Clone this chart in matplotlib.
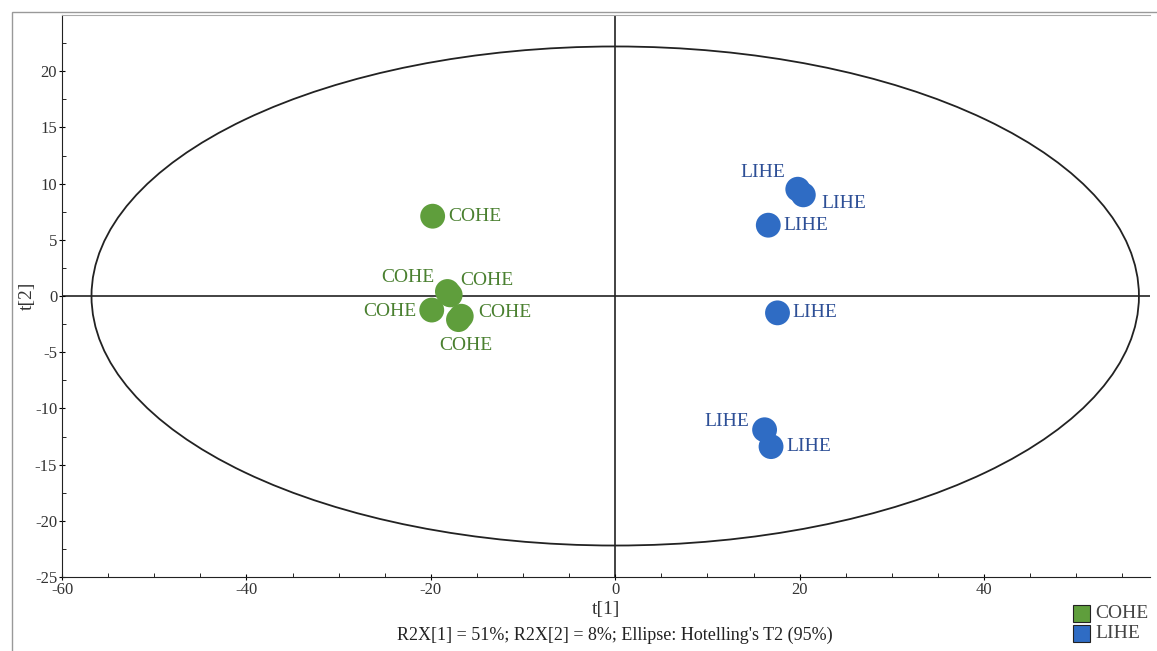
import matplotlib
matplotlib.use("Agg")
import matplotlib.pyplot as plt
from matplotlib.patches import Ellipse, Rectangle

plt.rcParams["axes.unicode_minus"] = False

# ---- data ----
cohe_t1 = [-19.8, -18.2, -17.9, -19.9, -16.7, -17.0]
cohe_t2 = [7.1, 0.4, 0.1, -1.25, -1.8, -2.1]
lihe_t1 = [19.8, 20.4, 16.6, 17.6, 16.2, 16.9]
lihe_t2 = [9.5, 9.0, 6.3, -1.5, -11.9, -13.4]
cohe_label = "COHE"
lihe_label = "LIHE"
ellipse_t1 = 56.8   # semi-axis along t[1]
ellipse_t2 = 22.2   # semi-axis along t[2]
xticks = [-60, -40, -20, 0, 20, 40]
yticks = [-25, -20, -15, -10, -5, 0, 5, 10, 15, 20]
caption = "R2X[1] = 51%; R2X[2] = 8%; Ellipse: Hotelling's T2 (95%)"

# ---- styles ----
green = "#5f9e3c"
blue = "#2f6cc4"
green_txt = "#4a8030"
blue_txt = "#2d4f96"
serif = ["Liberation Serif", "DejaVu Serif"]

# label offsets (points) and alignments
cohe_off = [(11, 0, "left", "center"), (-9, 10, "right", "center"),
            (7, 10, "left", "center"), (-11, -1, "right", "center"),
            (12, 3, "left", "center"), (5, -19, "center", "center")]
lihe_off = [(-9, 12, "right", "center"), (13, -6, "left", "center"),
            (11, 0, "left", "center"), (11, 0, "left", "center"),
            (-11, 6, "right", "center"), (11, 0, "left", "center")]

fig = plt.figure(figsize=(11.57, 6.51), dpi=100)
ax = fig.add_axes([62 / 1157, 1 - 577 / 651, (1150 - 62) / 1157, (577 - 15) / 651])

ax.set_xlim(-60, 58)
ax.set_ylim(-25, 25)

ax.axhline(0, color="#222222", lw=1.2, zorder=1)
ax.axvline(0, color="#222222", lw=1.2, zorder=1)
ax.add_patch(Ellipse((0, 0), 2 * ellipse_t1, 2 * ellipse_t2, fill=False,
                     edgecolor="#222222", lw=1.3, zorder=2))

ax.scatter(cohe_t1, cohe_t2, s=320, color=green, edgecolor="none", zorder=3)
ax.scatter(lihe_t1, lihe_t2, s=320, color=blue, edgecolor="none", zorder=3)

for x, y, (dx, dy, ha, va) in zip(cohe_t1, cohe_t2, cohe_off):
    ax.annotate(cohe_label, (x, y), xytext=(dx, dy), textcoords="offset points",
                ha=ha, va=va, color=green_txt, fontsize=14, family=serif, zorder=4)
for x, y, (dx, dy, ha, va) in zip(lihe_t1, lihe_t2, lihe_off):
    ax.annotate(lihe_label, (x, y), xytext=(dx, dy), textcoords="offset points",
                ha=ha, va=va, color=blue_txt, fontsize=14, family=serif, zorder=4)

ax.spines["top"].set_color("#aaaaaa")
ax.spines["right"].set_visible(False)
ax.spines["left"].set_color("#222222")
ax.spines["bottom"].set_color("#222222")

ax.set_xticks(xticks)
ax.set_yticks(yticks)
ax.set_xticks(range(-60, 58, 5), minor=True)
ax.set_yticks([v / 2 for v in range(-50, 51, 5)], minor=True)
ax.tick_params(axis="both", which="major", direction="inout", length=5,
               labelsize=12, labelcolor="#333333", pad=1)
ax.tick_params(axis="both", which="minor", direction="in", length=3)
for lab in ax.get_xticklabels() + ax.get_yticklabels():
    lab.set_family(serif)

ax.set_xlabel("t[1]", family=serif, fontsize=14, color="#333333", labelpad=2)
ax.set_ylabel("t[2]", family=serif, fontsize=14, color="#333333", labelpad=-1)

fig.text(615 / 1157, 1 - 635 / 651, caption, ha="center", va="center",
         family=serif, fontsize=13, color="#222222")

# legend
for i, (c, lab) in enumerate([(green, cohe_label), (blue, lihe_label)]):
    yc = 1 - (613 + 20 * i) / 651
    fig.patches.append(Rectangle((1073 / 1157, yc - 8.5 / 651), 17 / 1157, 17 / 651,
                                 transform=fig.transFigure, facecolor=c,
                                 edgecolor="#222222", lw=0.8))
    fig.text(1095 / 1157, yc, lab, ha="left", va="center", family=serif,
             fontsize=14, color="#444444")

# outer frame
fig.patches.append(Rectangle((12 / 1157, -0.01), 1.1, 1 - 12 / 651 + 0.01,
                             transform=fig.transFigure, fill=False,
                             edgecolor="#999999", lw=1))

fig.savefig("out.png", dpi=100)
